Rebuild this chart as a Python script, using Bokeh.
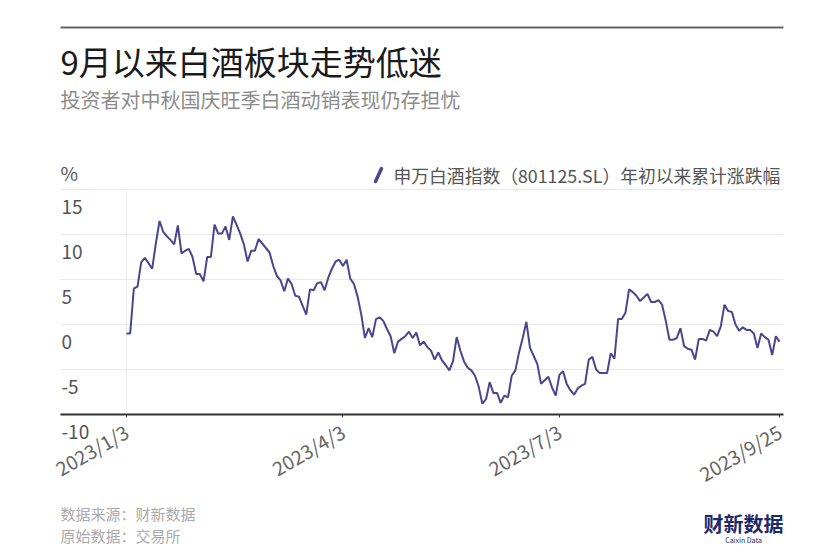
import math
from bokeh.plotting import figure
from bokeh.models import (ColumnDataSource, Range1d, FixedTicker, Label, Arrow)
from bokeh.embed import file_html
from bokeh.resources import INLINE

# ---------------- data ----------------
title_text = "9月以来白酒板块走势低迷"
subtitle_text = "投资者对中秋国庆旺季白酒动销表现仍存担忧"
series_name = "申万白酒指数（801125.SL）年初以来累计涨跌幅"
y_unit = "%"
source_line1 = "数据来源：财新数据"
source_line2 = "原始数据：交易所"
brand_cn = "财新数据"
brand_en = "Caixin Data"

# cumulative change (%) by trading day, 2023/1/3 .. 2023/9/25
values = [
    -1.0, -1.0, 4.0, 4.2, 6.9, 7.4, 6.8, 6.2, 9.0, 11.5,
    10.3, 9.8, 9.4, 8.9, 11.0, 7.9, 8.2, 8.4, 7.5, 5.6,
    5.6, 4.8, 7.5, 7.5, 11.1, 10.1, 10.1, 10.9, 9.4, 12.0,
    11.1, 10.1, 8.9, 7.0, 8.2, 8.2, 9.5, 9.0, 8.5, 8.0,
    6.5, 5.4, 4.9, 3.7, 5.1, 4.5, 3.2, 3.1, 2.1, 1.1,
    3.9, 3.8, 4.6, 4.7, 3.8, 5.2, 6.2, 7.0, 7.2, 6.5,
    7.2, 5.1, 4.5, 3.1, 1.1, -1.5, -0.4, -1.4, 0.6, 0.8,
    0.4, -0.5, -1.3, -3.2, -1.9, -1.6, -1.3, -0.8, -1.5, -0.9,
    -2.3, -1.9, -2.5, -2.9, -3.9, -3.1, -4.0, -4.5, -5.1, -4.1,
    -1.4, -2.9, -4.1, -4.8, -5.1, -5.7, -6.9, -8.8, -8.3, -6.4,
    -7.6, -7.6, -8.7, -7.9, -8.1, -5.7, -5.1, -3.1, -1.5, 0.3,
    -2.6, -3.5, -4.4, -6.6, -6.2, -5.8, -7.0, -7.9, -5.6, -5.2,
    -6.6, -7.3, -7.8, -7.1, -6.8, -6.6, -3.9, -3.6, -5.0, -5.4,
    -5.4, -5.4, -3.2, -3.8, 0.6, 0.6, 1.3, 3.9, 3.6, 3.2,
    2.6, 3.0, 3.4, 2.5, 2.5, 2.7, 2.2, 0.4, -1.7, -1.7,
    -1.5, -0.4, -2.4, -2.7, -2.8, -3.9, -1.6, -1.6, -1.8, -0.6,
    -0.8, -1.3, -0.2, 2.2, 1.5, 1.4, 0.0, -0.7, -0.3, -0.6,
    -0.6, -1.0, -2.6, -1.0, -1.4, -1.7, -3.4, -1.3, -1.9,
]
x_tick_index = [0, 59, 118, 178]
x_tick_labels = ["2023/1/3", "2023/4/3", "2023/7/3", "2023/9/25"]
y_ticks = [-10, -5, 0, 5, 10, 15]
y_tick_labels = ["-10", "-5", "0", "5", "10", "15"]

# ---------------- layout / styles ----------------
FONT = "Noto Sans CJK SC"
LINE_COLOR = "#4b4590"
GRID_COLOR = "#e9e9e9"

W, H = 840, 560
PLOT_L, PLOT_R = 60, 783            # px extent of grid / axis line
DATA_L, DATA_R = 126, 779           # px of first / last trading day
GRID_TOP, AXIS_Y = 189, 414         # px of top grid line and axis line

n_last = len(values) - 1
kx = (DATA_R - DATA_L) / n_last                        # px per trading day
ky = (AXIS_Y - GRID_TOP) / (y_ticks[-1] - y_ticks[0])  # px per percent
x_range = Range1d(-DATA_L / kx, n_last + (W - DATA_R) / kx)
y_range = Range1d(y_ticks[0] - (H - AXIS_Y) / ky, y_ticks[-1] + GRID_TOP / ky)
span_bounds = ((PLOT_L - DATA_L) / kx, n_last + (PLOT_R - DATA_R) / kx)

p = figure(width=W, height=H, output_backend="svg", toolbar_location=None,
           x_range=x_range, y_range=y_range, y_axis_location=None,
           min_border_left=0, min_border_right=0, min_border_top=0, min_border_bottom=0)
p.outline_line_color = None
p.background_fill_color = "white"
p.border_fill_color = "white"


def screen_label(x, y, text, size, color, align="left", style="normal"):
    """x, y in px from the canvas' left / bottom edge."""
    p.add_layout(Label(x=x, y=y, x_units="screen", y_units="screen", text=text,
                       text_font=FONT, text_font_size=size, text_color=color,
                       text_align=align, text_baseline="middle",
                       text_font_style=style))


# grid (horizontal lines limited to the plot's width)
p.xgrid.visible = False
ygrid = p.ygrid[0]
if "cross_bounds" in ygrid.properties():
    ygrid.ticker = FixedTicker(ticks=y_ticks)
    ygrid.cross_bounds = span_bounds
    ygrid.grid_line_color = GRID_COLOR
    ygrid.grid_line_width = 1
else:
    ygrid.visible = False
    p.segment(x0=[span_bounds[0]] * len(y_ticks), y0=y_ticks,
              x1=[span_bounds[1]] * len(y_ticks), y1=y_ticks,
              line_color=GRID_COLOR, line_width=1)
p.segment(x0=[x_tick_index[0]], y0=[y_ticks[0]], x1=[x_tick_index[0]], y1=[y_ticks[-1]],
          line_color=GRID_COLOR, line_width=1)

# x axis, pinned at the bottom tick value
ax = p.xaxis[0]
ax.fixed_location = y_ticks[0]
ax.bounds = span_bounds
ax.ticker = FixedTicker(ticks=x_tick_index)
ax.major_label_overrides = {i: s for i, s in zip(x_tick_index, x_tick_labels)}
ax.major_label_orientation = math.pi / 6
ax.major_label_text_font = FONT
ax.major_label_text_font_size = "19.5px"
ax.major_label_text_color = "#666666"
ax.axis_line_color = "#333333"
ax.axis_line_width = 2
ax.major_tick_line_color = "#333333"
ax.major_tick_in = 0
ax.major_tick_out = 3
ax.minor_tick_line_color = None
ax.major_label_standoff = 12

# line
src = ColumnDataSource(dict(x=list(range(len(values))), y=values))
p.line("x", "y", source=src, line_color=LINE_COLOR, line_width=2)

# y tick labels under their grid lines
for v, s in zip(y_ticks, y_tick_labels):
    p.add_layout(Label(x=PLOT_L + 1, y=v, x_units="screen", y_units="data", text=s,
                       y_offset=-17, text_font=FONT, text_font_size="19px",
                       text_color="#555555", text_baseline="middle", text_align="left"))

# header
p.add_layout(Arrow(end=None, x_start=PLOT_L, y_start=H - 27, x_end=PLOT_R, y_end=H - 27,
                   start_units="screen", end_units="screen",
                   line_color="#666666", line_width=2))
screen_label(PLOT_L, H - 60, title_text, "33px", "#1a1a1a")
screen_label(PLOT_L, H - 99, subtitle_text, "20px", "#8c8c8c")

# unit + legend
screen_label(PLOT_L, H - 172, y_unit, "19px", "#555555")
p.add_layout(Arrow(end=None, x_start=375, y_start=H - 181, x_end=381, y_end=H - 168,
                   start_units="screen", end_units="screen",
                   line_color=LINE_COLOR, line_width=3.5, line_cap="round"))
screen_label(393, H - 174, series_name, "17.8px", "#555555")

# footer
screen_label(PLOT_L, H - 513, source_line1, "15px", "#aaaaaa")
screen_label(PLOT_L, H - 535, source_line2, "15px", "#aaaaaa")
screen_label(PLOT_R, H - 523, brand_cn, "20px", "#1d2a6b", align="right", style="bold")
screen_label(743, H - 539, brand_en, "7px", "#1d2a6b", align="center")

open("out.html", "w").write(file_html(p, INLINE))
